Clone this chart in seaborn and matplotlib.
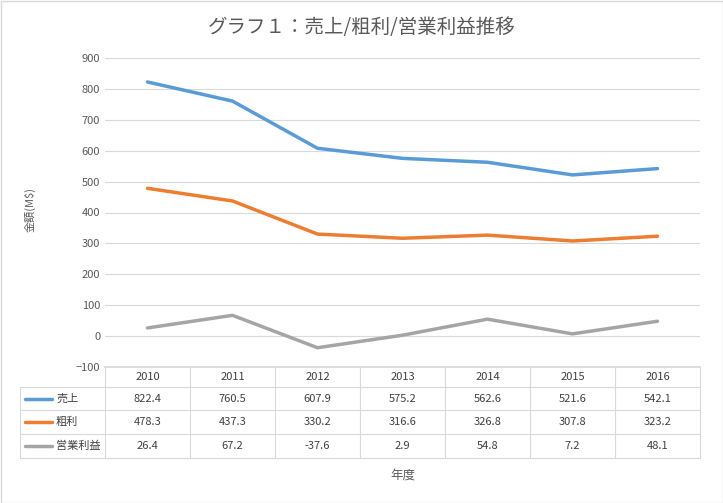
import matplotlib
matplotlib.use("Agg")
import matplotlib.pyplot as plt
import seaborn as sns
import pandas as pd
from matplotlib.lines import Line2D

years = ["2010", "2011", "2012", "2013", "2014", "2015", "2016"]
sales = [822.4, 760.5, 607.9, 575.2, 562.6, 521.6, 542.1]
gross = [478.3, 437.3, 330.2, 316.6, 326.8, 307.8, 323.2]
oper = [26.4, 67.2, -37.6, 2.9, 54.8, 7.2, 48.1]
series_names = ["売上", "粗利", "営業利益"]
colors = ["#5B9BD5", "#ED7D31", "#A5A5A5"]

sns.set_theme(style="white")
plt.rcParams['font.family'] = ['Noto Sans CJK JP', 'DejaVu Sans']
W, H = 723, 503
fig = plt.figure(figsize=(W/100, H/100), dpi=100)
fig.patch.set_facecolor("white")

L, R, T, B = 105, 700, 58, 367
ax = fig.add_axes([L/W, 1-B/H, (R-L)/W, (B-T)/H])
rows = []
for name, vals in zip(series_names, [sales, gross, oper]):
    for i, v in enumerate(vals):
        rows.append({"x": i, "v": v, "s": name})
df = pd.DataFrame(rows)
sns.lineplot(data=df, x="x", y="v", hue="s", palette=colors, linewidth=2.5, legend=False, ax=ax)
ax.set_xlim(-0.5, 6.5)
ax.set_ylim(-100, 900)
ax.set_yticks(range(-100, 901, 100))
ax.tick_params(axis="y", labelsize=8, colors="#595959", length=0)
ax.set_xticks([])
ax.set_xlabel("")
ax.set_ylabel("")
ax.grid(axis="y", color="#D9D9D9", linewidth=0.8)
for s in ["top", "right", "left"]:
    ax.spines[s].set_visible(False)
ax.spines["bottom"].set_color("#D9D9D9")

fig.text(0.5, 1-28/H, "グラフ１：売上/粗利/営業利益推移", ha="center", va="center", fontsize=14, color="#595959")
fig.text(30/W, 1-210/H, "金額(M$)", rotation=90, ha="center", va="center", fontsize=8, color="#595959")
fig.text(0.5+ (L+R)/2/W - 0.5, 1-475/H, "年度", ha="center", va="center", fontsize=9, color="#595959")

# table
tax = fig.add_axes([0, 0, 1, 1])
tax.set_xlim(0, W); tax.set_ylim(H, 0); tax.axis("off")
ys = [367, 387, 410, 434, 458]
TL = 20
gc = "#D9D9D9"
cw = (R-L)/7
for y in ys[1:]:
    tax.plot([TL, R], [y, y], color=gc, lw=0.8)
tax.plot([TL, TL], [ys[1], ys[-1]], color=gc, lw=0.8)
for i in range(8):
    tax.plot([L+i*cw]*2, [ys[0], ys[-1]], color=gc, lw=0.8)
for i, yr in enumerate(years):
    tax.text(L+(i+0.5)*cw, (ys[0]+ys[1])/2, yr, ha="center", va="center", fontsize=8, color="#404040")
for r, (name, vals) in enumerate(zip(series_names, [sales, gross, oper])):
    yc = (ys[r+1]+ys[r+2])/2
    tax.plot([25, 52], [yc, yc], color=colors[r], lw=2.5)
    tax.text(56, yc, name, ha="left", va="center", fontsize=8, color="#404040")
    for i, v in enumerate(vals):
        tax.text(L+(i+0.5)*cw, yc, f"{v}", ha="center", va="center", fontsize=8, color="#404040")

# outer border
tax.add_patch(plt.Rectangle((0.5, 0.5), W-1, H-1, fill=False, edgecolor="#D9D9D9", lw=1))
fig.savefig("out.png", dpi=100)
